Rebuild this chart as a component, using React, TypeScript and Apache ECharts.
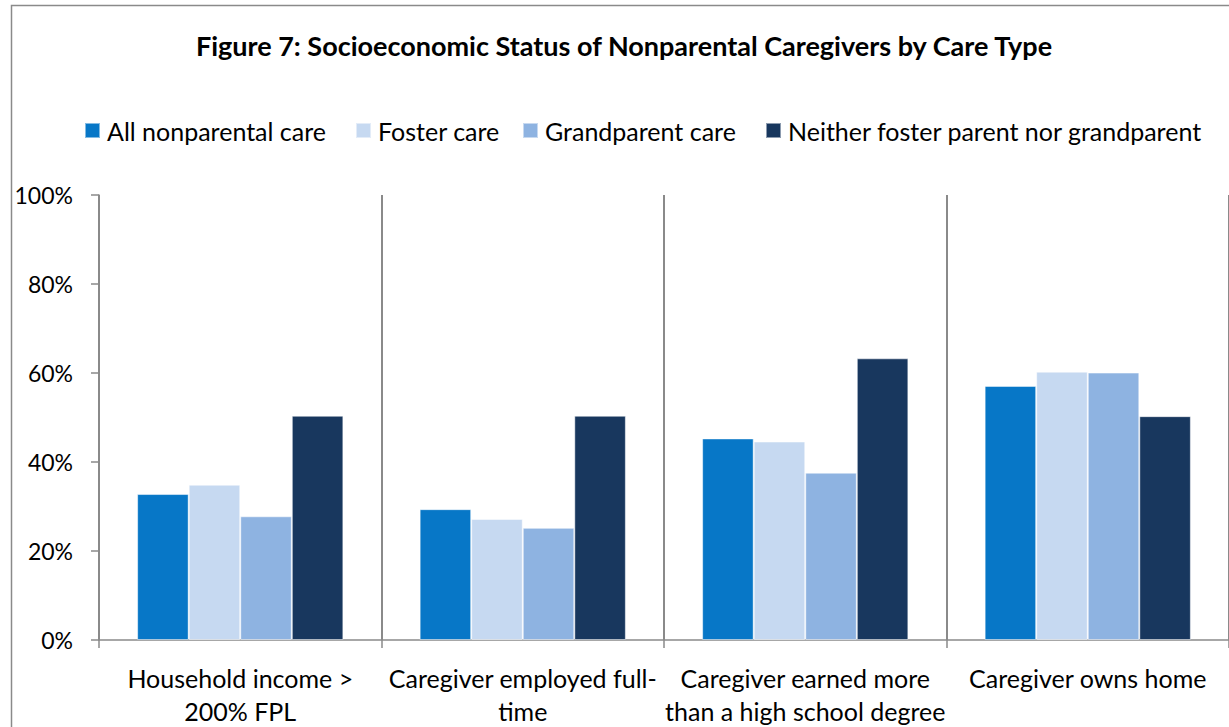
import React, { useEffect, useRef } from "react";
import * as echarts from "echarts";

const titleText = "Figure 7: Socioeconomic Status of Nonparental Caregivers by Care Type";
const categories = [
  "Household income >\n200% FPL",
  "Caregiver employed full-\ntime",
  "Caregiver earned more\nthan a high school degree",
  "Caregiver owns home",
];
const seriesNames = [
  "All nonparental care",
  "Foster care",
  "Grandparent care",
  "Neither foster parent nor grandparent",
];
const allNonparental = [32.8, 29.4, 45.3, 57.1];
const fosterCare = [34.9, 27.2, 44.6, 60.3];
const grandparentCare = [27.8, 25.2, 37.6, 60.1];
const neither = [50.4, 50.4, 63.3, 50.3];
const seriesValues = [allNonparental, fosterCare, grandparentCare, neither];
const colors = ["#0777C7", "#C6D9F1", "#8EB3E1", "#18375E"];
const legendLeft = [84, 355, 522, 765];

const FONT = "Lato, 'Noto Sans', sans-serif";

export default function App() {
  const ref = useRef<HTMLDivElement>(null);
  useEffect(() => {
    if (!ref.current) return;
    const chart = echarts.init(ref.current, undefined, { renderer: "svg" });
    const option: any = {
      animation: false,
      backgroundColor: "#ffffff",
      textStyle: { fontFamily: FONT },
      graphic: [
        {
          type: "rect",
          shape: { x: 11.5, y: 5.5, width: 1260, height: 780 },
          style: { fill: "none", stroke: "#8a8a8a", lineWidth: 1.5 },
          silent: true,
        },
        {
          type: "text",
          x: 624,
          y: 45,
          style: {
            text: titleText,
            fontFamily: FONT,
            fontWeight: "bold",
            fontSize: 27,
            fill: "#000000",
            textAlign: "center",
            textVerticalAlign: "middle",
          },
        },
      ],
      legend: seriesNames.map((n, i) => ({
        data: [n],
        left: legendLeft[i],
        top: 118,
        itemWidth: 15,
        itemHeight: 15,
        icon: "rect",
        textStyle: { fontSize: 25, color: "#000000", fontFamily: FONT, padding: [0, 0, 0, 2] },
        padding: 0,
        selectedMode: false,
      })),
      grid: { left: 99, top: 195, width: 1136, height: 448 },
      xAxis: {
        type: "category",
        data: categories,
        axisLine: { show: true, lineStyle: { color: "#8a8a8a", width: 1.5 } },
        axisTick: { show: true, length: 8, alignWithLabel: false, lineStyle: { color: "#8a8a8a", width: 1.5 } },
        splitLine: { show: true, lineStyle: { color: "#8a8a8a", width: 2 } },
        axisLabel: {
          interval: 0,
          margin: 21,
          fontSize: 25,
          lineHeight: 33,
          color: "#000000",
          fontFamily: FONT,
        },
      },
      yAxis: {
        type: "value",
        min: 0,
        max: 100,
        interval: 20,
        axisLine: { show: true, lineStyle: { color: "#8a8a8a", width: 1.5 } },
        axisTick: { show: true, length: 8, lineStyle: { color: "#8a8a8a", width: 1.5 } },
        splitLine: { show: false },
        axisLabel: {
          formatter: "{value}%",
          margin: 26,
          fontSize: 23,
          color: "#000000",
          fontFamily: FONT,
        },
      },
      series: seriesNames.map((n, i) => ({
        name: n,
        type: "bar",
        data: seriesValues[i],
        barGap: "0%",
        barCategoryGap: "27%",
        itemStyle: { color: colors[i], borderColor: "rgba(255,255,255,0.5)", borderWidth: 1 },
      })),
    };
    chart.setOption(option);
    return () => chart.dispose();
  }, []);
  return (
    <div
      ref={ref}
      style={{ position: "absolute", left: 0, top: 0, width: 1229, height: 727 }}
    />
  );
}
